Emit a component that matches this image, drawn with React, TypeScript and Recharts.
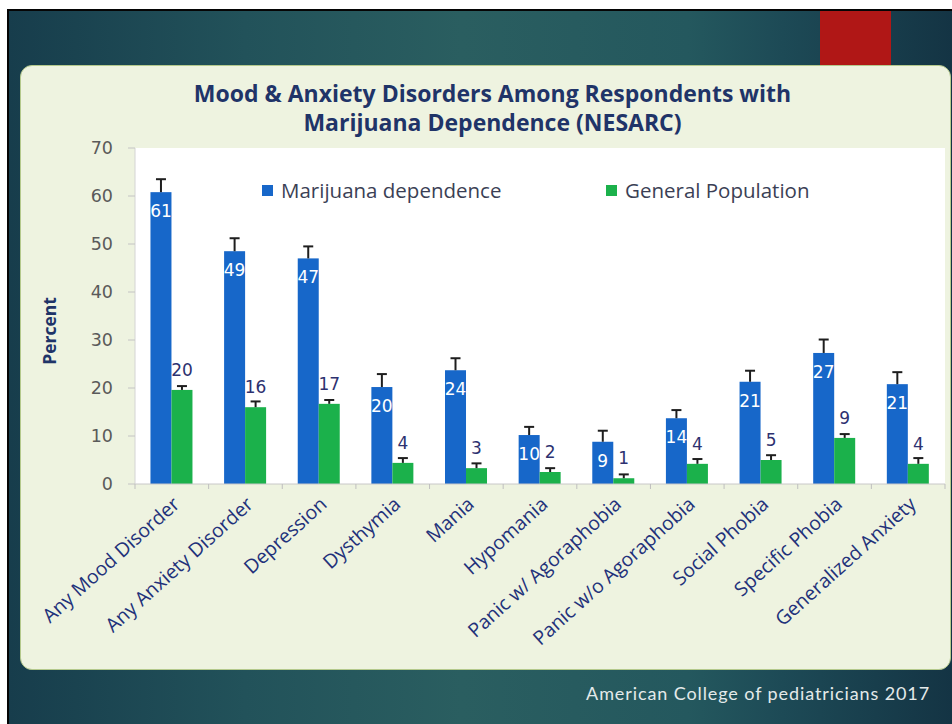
import React from 'react';
import { BarChart, Bar, XAxis, YAxis, CartesianGrid, LabelList, Legend } from 'recharts';

const categories = [
  'Any Mood Disorder',
  'Any Anxiety Disorder',
  'Depression',
  'Dysthymia',
  'Mania',
  'Hypomania',
  'Panic w/ Agoraphobia',
  'Panic w/o Agoraphobia',
  'Social Phobia',
  'Specific Phobia',
  'Generalized Anxiety',
];
const marijuanaValues = [60.8, 48.5, 47.0, 20.2, 23.7, 10.2, 8.8, 13.7, 21.3, 27.3, 20.8];
const marijuanaLabels = [61, 49, 47, 20, 24, 10, 9, 14, 21, 27, 21];
const marijuanaErrors = [2.7, 2.7, 2.5, 2.7, 2.5, 1.7, 2.3, 1.7, 2.3, 2.8, 2.5];
const generalValues = [19.6, 16.0, 16.7, 4.4, 3.3, 2.5, 1.2, 4.2, 5.0, 9.6, 4.2];
const generalLabels = [20, 16, 17, 4, 3, 2, 1, 4, 5, 9, 4];
const generalErrors = [0.8, 1.2, 0.8, 1.0, 1.0, 0.8, 0.8, 1.0, 1.0, 0.8, 1.2];
const yTicks = [0, 10, 20, 30, 40, 50, 60, 70];

const seriesNames = ['Marijuana dependence', 'General Population'];

const data = categories.map((c, i) => ({
  name: c,
  mj: marijuanaValues[i],
  mjLabel: marijuanaLabels[i],
  mjErr: marijuanaErrors[i],
  gp: generalValues[i],
  gpLabel: generalLabels[i],
  gpErr: generalErrors[i],
}));

const BLUE = '#1767c9';
const GREEN = '#1bb14b';
const NAVY = '#1f3468';

const makeShape = (errKey: string) => (props: any) => {
  const { x, y, width, height, fill, payload, value } = props;
  const v = Array.isArray(value) ? value[1] - value[0] : value;
  const pxPerUnit = v ? height / v : 0;
  const e = (payload?.[errKey] ?? 0) * pxPerUnit;
  const cx = x + width / 2;
  return (
    <g>
      <rect x={x} y={y} width={width} height={height} fill={fill} />
      <line x1={cx} x2={cx} y1={y} y2={y - e} stroke="#1e1e1e" strokeWidth={2} />
      <line x1={cx - 5} x2={cx + 5} y1={y - e} y2={y - e} stroke="#1e1e1e" strokeWidth={2} />
    </g>
  );
};

const XTick = (props: any) => {
  const { x, y, payload, index } = props;
  const off = payload?.offset ?? 0;
  const tx = x + 9;
  const ty = y + 22;
  return (
    <g>
      {index === 0 && off ? (
        <line x1={x - off} x2={x - off} y1={y} y2={y + 5} stroke="#bfbfbf" strokeWidth={1} />
      ) : null}
      {off ? <line x1={x + off} x2={x + off} y1={y} y2={y + 5} stroke="#bfbfbf" strokeWidth={1} /> : null}
      <text
        x={tx}
        y={ty}
        textAnchor="end"
        transform={`rotate(-42, ${tx}, ${ty})`}
        fill="#22317a"
        fontFamily="'Open Sans', sans-serif"
        fontSize={19.5}
      >
        {payload.value}
      </text>
    </g>
  );
};

const LegendContent = (props: any) => {
  const items = props.payload || [];
  return (
    <div style={{ display: 'flex', alignItems: 'center', fontFamily: "'Open Sans', sans-serif", fontSize: 20.5, color: '#3b3f55' }}>
      {seriesNames.map((name, i) => {
        const it = items.find((p: any) => p.value === name) || {};
        return (
          <div key={name} style={{ display: 'flex', alignItems: 'center', width: i === 0 ? 344 : 'auto' }}>
            <span style={{ display: 'inline-block', width: 11, height: 11, background: it.color, marginRight: 8 }} />
            <span>{name}</span>
          </div>
        );
      })}
    </div>
  );
};

export default function App() {
  return (
    <div style={{ position: 'fixed', left: 0, top: 0, width: 952, height: 724, background: '#ffffff', overflow: 'hidden' }}>
      <div
        style={{
          position: 'absolute',
          left: 7,
          top: 9,
          width: 945,
          height: 715,
          boxSizing: 'border-box',
          borderTop: '2px solid #050505',
          borderLeft: '2px solid #050505',
          background: 'linear-gradient(90deg, #173d4c 0%, #22525a 25%, #2a5e60 48%, #24585e 72%, #1d4a56 82%, #143444 100%)',
        }}
      />
      <div style={{ position: 'absolute', left: 820, top: 11, width: 71, height: 54, background: '#b01716' }} />
      <div
        style={{
          position: 'absolute',
          left: 20,
          top: 65,
          width: 931,
          height: 605,
          boxSizing: 'border-box',
          borderRadius: 12,
          background: '#eef3e0',
          border: '1.5px solid #b4c98c',
        }}
      />
      <div
        style={{
          position: 'absolute',
          left: 20,
          width: 931,
          top: 79,
          textAlign: 'center',
          fontFamily: "'Open Sans', sans-serif",
          fontWeight: 700,
          fontSize: 23,
          lineHeight: '29px',
          color: NAVY,
          transform: 'translateX(7px)',
          whiteSpace: 'nowrap',
        }}
      >
        <div>Mood &amp; Anxiety Disorders Among Respondents with</div>
        <div>Marijuana Dependence (NESARC)</div>
      </div>
      <div
        style={{
          position: 'absolute',
          left: 49,
          top: 331,
          transform: 'translate(-50%, -50%) rotate(-90deg)',
          fontFamily: "'Open Sans', sans-serif",
          fontWeight: 700,
          fontSize: 17.5,
          color: NAVY,
          whiteSpace: 'nowrap',
        }}
      >
        Percent
      </div>
      <div
        style={{
          position: 'absolute',
          right: 22,
          top: 682,
          fontFamily: 'Lato, sans-serif',
          fontSize: 18,
          letterSpacing: 0.9,
          color: '#e4eaea',
          whiteSpace: 'nowrap',
        }}
      >
        American College of pediatricians 2017
      </div>
      <div style={{ position: 'absolute', left: 0, top: 0 }}>
        <BarChart
          width={952}
          height={724}
          data={data}
          margin={{ top: 148, right: 7, bottom: 140, left: 75 }}
          barCategoryGap="21%"
          barGap={0}
        >
          <CartesianGrid horizontal={false} vertical={false} fill="#ffffff" stroke="none" />
          <XAxis
            dataKey="name"
            interval={0}
            height={100}
            tickSize={0}
            tickMargin={0}
            tickLine={false}
            axisLine={{ stroke: '#c8c8c8' }}
            tick={<XTick />}
          />
          <YAxis
            width={60}
            domain={[0, 70]}
            ticks={yTicks}
            interval={0}
            tickSize={7}
            tickMargin={15}
            axisLine={{ stroke: '#d4d4d4' }}
            tickLine={{ stroke: '#c4c4c4' }}
            tick={{ fill: '#5a5a5a', fontFamily: "'DejaVu Sans', sans-serif", fontSize: 17.5 }}
          />
          <Legend
            layout="vertical"
            align="center"
            verticalAlign="middle"
            content={<LegendContent />}
            wrapperStyle={{ position: 'absolute', left: 262, top: 176, width: 640, height: 28 }}
          />
          <Bar dataKey="mj" name={seriesNames[0]} fill={BLUE} isAnimationActive={false} shape={makeShape('mjErr')}>
            <LabelList
              dataKey="mjLabel"
              position="insideTop"
              offset={13}
              fill="#ffffff"
              style={{ fontFamily: "'DejaVu Sans', sans-serif", fontSize: 17 }}
            />
          </Bar>
          <Bar dataKey="gp" name={seriesNames[1]} fill={GREEN} isAnimationActive={false} shape={makeShape('gpErr')}>
            <LabelList
              dataKey="gpLabel"
              position="top"
              offset={14}
              fill="#2d3170"
              style={{ fontFamily: "'DejaVu Sans', sans-serif", fontSize: 17 }}
            />
          </Bar>
        </BarChart>
      </div>
    </div>
  );
}
